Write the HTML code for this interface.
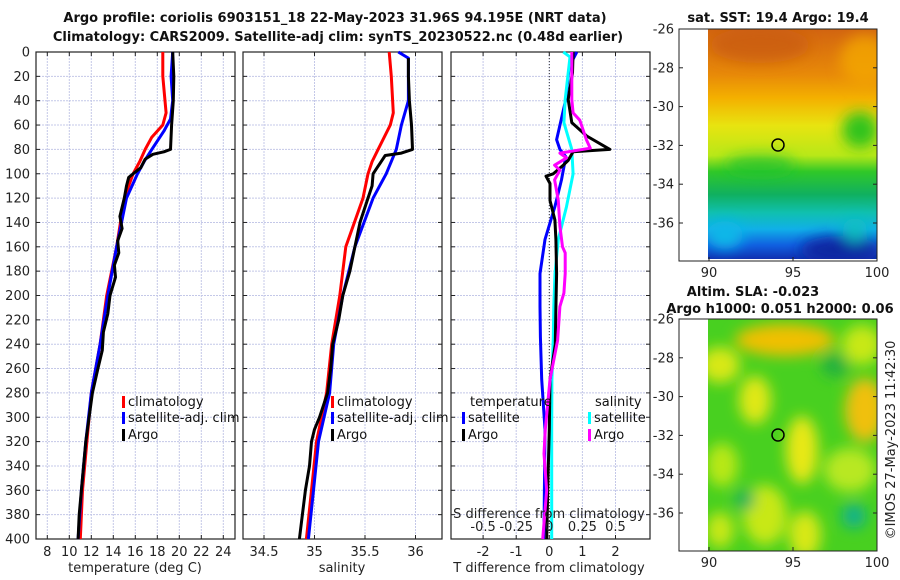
<!DOCTYPE html>
<html><head><meta charset="utf-8"><style>
body{margin:0;background:#fff;}
svg{display:block;font-family:"DejaVu Sans","Liberation Sans",sans-serif;}
.t{font-size:13px;fill:#222;}
.b{font-size:13px;font-weight:bold;fill:#111;}
.lg{font-size:13px;fill:#111;}
</style></head><body>
<svg id="fig" width="900" height="580" viewBox="0 0 900 580">
<defs>
<linearGradient id="sstg" x1="0" y1="0" x2="0" y2="1">
<stop offset="0" stop-color="#d26410"/><stop offset="0.2" stop-color="#e88a08"/><stop offset="0.3" stop-color="#f4b000"/>
<stop offset="0.42" stop-color="#e8e410"/><stop offset="0.55" stop-color="#b8e818"/><stop offset="0.62" stop-color="#30c828"/>
<stop offset="0.72" stop-color="#10b060"/><stop offset="0.8" stop-color="#10c0b0"/><stop offset="0.87" stop-color="#10b0e8"/>
<stop offset="0.94" stop-color="#1060e0"/><stop offset="1" stop-color="#1030b0"/></linearGradient>
<filter id="bl" x="-50%" y="-50%" width="200%" height="200%"><feGaussianBlur stdDeviation="7"/></filter>
<clipPath id="c1"><rect x="708" y="29" width="169" height="230"/></clipPath>
<clipPath id="c2"><rect x="708" y="319" width="169" height="232"/></clipPath>
</defs>
<text class="b" x="335" y="22" text-anchor="middle">Argo profile: coriolis 6903151_18 22-May-2023 31.96S 94.195E (NRT data)</text>
<text class="b" x="338" y="41" text-anchor="middle">Climatology: CARS2009. Satellite-adj clim: synTS_20230522.nc (0.48d earlier)</text>
<g id="p1"></g>
<g id="p2"></g>
<g id="p3"></g>
<g id="m1">
<text class="b" x="778" y="22" text-anchor="middle">sat. SST: 19.4 Argo: 19.4</text>
<g clip-path="url(#c1)">
<rect x="708" y="29" width="169" height="230" fill="url(#sstg)"/>
<g filter="url(#bl)">
<ellipse cx="760" cy="45" rx="50" ry="18" fill="#c85a10" opacity="0.7"/>
<ellipse cx="865" cy="60" rx="25" ry="25" fill="#f4a800" opacity="0.8"/>
<ellipse cx="860" cy="130" rx="18" ry="18" fill="#20c020" opacity="0.9"/>
<ellipse cx="760" cy="165" rx="35" ry="10" fill="#20c030" opacity="0.7"/>
<ellipse cx="840" cy="250" rx="40" ry="14" fill="#0828a0"/>
<ellipse cx="855" cy="230" rx="12" ry="12" fill="#10c0c0"/>
<ellipse cx="725" cy="235" rx="18" ry="14" fill="#10b8e8"/>
</g></g>
<rect x="679" y="29" width="198" height="232" fill="none" stroke="#222"/>
<circle cx="778" cy="145" r="6" fill="none" stroke="#000" stroke-width="1.5"/>
</g>
<g id="m2">
<text class="b" x="753" y="296" text-anchor="middle">Altim. SLA: -0.023</text>
<text class="b" x="780" y="313" text-anchor="middle">Argo h1000: 0.051 h2000: 0.06</text>
<g clip-path="url(#c2)">
<rect x="708" y="319" width="169" height="232" fill="#48d020"/>
<g filter="url(#bl)">
<ellipse cx="785" cy="340" rx="50" ry="16" fill="#f0c000"/>
<ellipse cx="720" cy="365" rx="20" ry="18" fill="#d8e818"/>
<ellipse cx="862" cy="345" rx="20" ry="20" fill="#c8e818"/>
<ellipse cx="865" cy="410" rx="20" ry="32" fill="#f0c010"/>
<ellipse cx="755" cy="400" rx="16" ry="24" fill="#e0e818"/>
<ellipse cx="802" cy="450" rx="16" ry="34" fill="#e8e818"/>
<ellipse cx="722" cy="465" rx="16" ry="22" fill="#b8e818"/>
<ellipse cx="765" cy="515" rx="22" ry="30" fill="#c8e818"/>
<ellipse cx="805" cy="535" rx="16" ry="24" fill="#d8e818"/>
<ellipse cx="850" cy="470" rx="26" ry="22" fill="#b8e820"/>
<ellipse cx="720" cy="530" rx="14" ry="18" fill="#c8e818"/>
<ellipse cx="745" cy="500" rx="10" ry="10" fill="#10b060"/>
<ellipse cx="854" cy="516" rx="12" ry="12" fill="#10b090"/>
<ellipse cx="835" cy="365" rx="14" ry="12" fill="#20b040"/>
</g></g>
<rect x="679" y="319" width="198" height="232" fill="none" stroke="#222"/>
<circle cx="778" cy="435" r="6" fill="none" stroke="#000" stroke-width="1.5"/>
</g>
<text class="t" transform="translate(895,440) rotate(-90)" text-anchor="middle">©IMOS 27-May-2023 11:42:30</text>
</svg>
<script>
// ---- data ----
const tempClimDepth=[0,20,40,50,60,70,80,90,100,120,160,200,240,280,320,360,400];
const tempClim=[18.5,18.5,18.7,18.8,18.5,17.5,16.9,16.4,15.8,15.0,14.3,13.4,12.8,12.0,11.6,11.2,11.0];
const tempSatDepth=[0,20,40,55,65,80,90,100,120,160,200,240,280,320,360,400];
const tempSat=[19.4,19.25,19.4,19.2,18.6,17.5,16.8,16.2,15.2,14.3,13.5,12.8,12.0,11.5,11.1,10.8];
const tempArgoDepth=[0,20,40,60,80,82,84,88,95,100,103,110,120,135,145,155,165,175,185,200,215,230,245,260,280,300,320,340,360,380,400];
const tempArgo=[19.4,19.5,19.45,19.3,19.2,18.6,17.6,16.9,16.5,15.8,15.4,15.2,15.0,14.6,14.8,14.4,14.5,14.1,14.2,13.7,13.5,13.1,13.0,12.6,12.1,11.8,11.5,11.3,11.1,10.9,10.8];
const salClimDepth=[0,20,50,60,80,90,100,120,160,200,240,280,320,360,400];
const salClim=[35.74,35.76,35.78,35.75,35.63,35.57,35.53,35.48,35.31,35.25,35.17,35.12,35.02,34.97,34.92];
const salSatDepth=[0,5,20,40,60,80,100,120,160,200,240,280,320,360,400];
const salSat=[35.83,35.93,35.93,35.93,35.86,35.81,35.71,35.58,35.40,35.28,35.19,35.15,35.04,34.99,34.94];
const salArgoDepth=[5,20,40,60,80,83,85,90,95,100,110,120,140,160,180,200,220,240,260,280,300,310,320,340,360,380,400];
const salArgo=[35.93,35.93,35.94,35.96,35.97,35.86,35.70,35.66,35.62,35.58,35.57,35.53,35.45,35.40,35.35,35.28,35.24,35.18,35.16,35.13,35.05,35.00,34.97,34.95,34.91,34.88,34.85];
const dTSatDepth=[0,12,39,72,80,86,105,127,154,182,209,234,269,310,393,400];
const dTSat=[0.83,0.6,0.5,0.22,0.32,0.5,0.37,0.17,-0.13,-0.28,-0.28,-0.27,-0.23,-0.13,-0.16,-0.17];
const dTArgoDepth=[0,17,39,58,69,80,82,89,93,100,102,108,122,138,154,182,210,240,269,310,350,400];
const dTArgo=[0.72,0.7,0.57,0.68,1.13,1.83,0.72,0.57,0.42,0.12,-0.1,0.02,0.02,0.17,0.2,0.22,0.2,0.18,0.02,0.0,-0.04,-0.08];
const dSSatDepth=[0,4,39,58,80,100,127,154,182,209,234,269,310,350,400];
const dSSat=[0.106,0.156,0.12,0.11,0.17,0.18,0.13,0.068,0.043,0.034,0.03,0.02,0.018,0.018,0.018];
const dSArgoDepth=[0,20,39,50,56,72,79,83,87,93,97,105,122,143,160,165,182,198,209,237,269,310,330,360,400];
const dSArgo=[0.17,0.17,0.17,0.18,0.23,0.28,0.31,0.08,0.13,0.04,0.08,0.04,0.068,0.08,0.1,0.12,0.12,0.11,0.08,0.063,0.005,-0.03,-0.04,-0.02,-0.05];
const depthTicks=[0,20,40,60,80,100,120,140,160,180,200,220,240,260,280,300,320,340,360,380,400];
const tempTicks=[8,10,12,14,16,18,20,22,24];
const salTicks=[34.5,35,35.5,36];
const dTTicks=[-2,-1,0,1,2];
const dSTicks=[-0.5,-0.25,0,0.25,0.5];
const latTicks=[-26,-28,-30,-32,-34,-36];
const lonTicks=[90,95,100];
// ---- helpers ----
const NS='http://www.w3.org/2000/svg';
function mk(parent,tag,attrs){const e=document.createElementNS(NS,tag);for(const k in attrs)e.setAttribute(k,attrs[k]);parent.appendChild(e);return e;}
const Y0=52,Y1=539;
function yD(d){return Y0+(Y1-Y0)*d/400;}
function lin(d0,d1,r0,r1){return v=>r0+(v-d0)*(r1-r0)/(d1-d0);}
function panel(g,x0,x1,xs,ticks,fmt,showY,name){
  for(const d of depthTicks){const l=mk(g,'line',{x1:x0,x2:x1,y1:yD(d),y2:yD(d),stroke:'#c4c8e8','stroke-dasharray':'2,1'});
    
    
    mk(g,'line',{x1:x0,x2:x0+4,y1:yD(d),y2:yD(d),stroke:'#222'});mk(g,'line',{x1:x1-4,x2:x1,y1:yD(d),y2:yD(d),stroke:'#222'});
    if(showY){const t=mk(g,'text',{x:x0-6,y:yD(d)+4.5,'text-anchor':'end',class:'t'});t.textContent=d;
      
      }}
  for(const v of ticks){const x=xs(v);const l=mk(g,'line',{x1:x,x2:x,y1:Y0,y2:Y1,stroke:'#c4c8e8','stroke-dasharray':'2,1'});
    
    
    mk(g,'line',{x1:x,x2:x,y1:Y1,y2:Y1-4,stroke:'#222'});mk(g,'line',{x1:x,x2:x,y1:Y0,y2:Y0+4,stroke:'#222'});
    if(fmt){const t=mk(g,'text',{x:x,y:Y1+17,'text-anchor':'middle',class:'t'});t.textContent=fmt(v);
      
      }}
  const r=mk(g,'rect',{x:x0,y:Y0,width:x1-x0,height:Y1-Y0,fill:'none',stroke:'#222','stroke-width':1.2});
  
  
}
function series(g,xs,depths,vals,color,name){
  const pts=vals.map((v,i)=>xs(v).toFixed(1)+','+yD(depths[i]).toFixed(1)).join(' ');
  const p=mk(g,'polyline',{points:pts,fill:'none',stroke:color,'stroke-width':3,'stroke-linejoin':'round'});
  
  
}
function label(g,x,y,txt,name,anchor,cls){const t=mk(g,'text',{x:x,y:y,'text-anchor':anchor||'middle',class:cls||'t'});t.textContent=txt;
  
  }
function legend(g,x,y,color,txt,name){mk(g,'rect',{x:x,y:y-10,width:3,height:12,fill:color});label(g,x+6,y,txt,name,'start','lg');}
// panel 1
const p1=document.getElementById('p1');const xT=lin(8,24,47.3,223.3);
panel(p1,36,235,xT,tempTicks,v=>v,true,'temperature');
series(p1,xT,tempClimDepth,tempClim,'#f00','temp-climatology-line');
series(p1,xT,tempSatDepth,tempSat,'#00f','temp-satellite-line');
series(p1,xT,tempArgoDepth,tempArgo,'#000','temp-argo-line');
label(p1,135,572,'temperature (deg C)','temperature-axis-title');
legend(p1,122,406,'#f00','climatology','legend-climatology');
legend(p1,122,422,'#00f','satellite-adj. clim','legend-satellite');
legend(p1,122,439,'#000','Argo','legend-argo');
// panel 2
const p2=document.getElementById('p2');const xS=lin(35,36,314.5,415.5);
panel(p2,243,442,xS,salTicks,v=>v,false,'salinity');
series(p2,xS,salClimDepth,salClim,'#f00','sal-climatology-line');
series(p2,xS,salSatDepth,salSat,'#00f','sal-satellite-line');
series(p2,xS,salArgoDepth,salArgo,'#000','sal-argo-line');
label(p2,342,572,'salinity','salinity-axis-title');
legend(p2,331,406,'#f00','climatology','legend-climatology-2');
legend(p2,331,422,'#00f','satellite-adj. clim','legend-satellite-2');
legend(p2,331,439,'#000','Argo','legend-argo-2');
// panel 3
const p3=document.getElementById('p3');const xdT=lin(0,1,549.3,582.4);const xdS=lin(0,0.25,549.3,582.4);
panel(p3,451,650,xdT,dTTicks,v=>v,false,'difference');
mk(p3,'line',{x1:549.3,x2:549.3,y1:Y0,y2:Y1,stroke:'#333','stroke-dasharray':'1,2'});
series(p3,xdT,dTSatDepth,dTSat,'#00f','dT-satellite-line');
series(p3,xdS,dSSatDepth,dSSat,'#0ff','dS-satellite-line');
series(p3,xdT,dTArgoDepth,dTArgo,'#000','dT-argo-line');
series(p3,xdS,dSArgoDepth,dSArgo,'#f0f','dS-argo-line');
for(const v of dSTicks){label(p3,xdS(v),531,String(v),'s-diff-tick-label');}
label(p3,549,518,'S difference from climatology','s-diff-axis-title');
label(p3,549,572,'T difference from climatology','t-diff-axis-title');
label(p3,470,406,'temperature','legend-temperature-header','start','lg');
legend(p3,462,422,'#00f','satellite','legend-t-satellite');
legend(p3,462,439,'#000','Argo','legend-t-argo');
label(p3,595,406,'salinity','legend-salinity-header','start','lg');
legend(p3,588,422,'#0ff','satellite','legend-s-satellite');
legend(p3,588,439,'#f0f','Argo','legend-s-argo');
// maps ticks
function mapAxes(gid,ytop,ybot,prefix){const g=document.getElementById(gid);
  const ly=lin(-26,-36,ytop,ytop+194);const lx=lin(90,100,709,877);
  for(const v of latTicks){const y=ly(v);mk(g,'line',{x1:679,x2:683,y1:y,y2:y,stroke:'#222'});mk(g,'line',{x1:873,x2:877,y1:y,y2:y,stroke:'#222'});
    label(g,674,y+4.5,v,prefix+'-lat-tick-label','end');}
  for(const v of lonTicks){const x=lx(v);mk(g,'line',{x1:x,x2:x,y1:ybot,y2:ybot-4,stroke:'#222'});
    label(g,x,ybot+16,v,prefix+'-lon-tick-label');}}
mapAxes('m1',29,261,'sst');mapAxes('m2',319,551,'sla');
</script>
</body></html>
